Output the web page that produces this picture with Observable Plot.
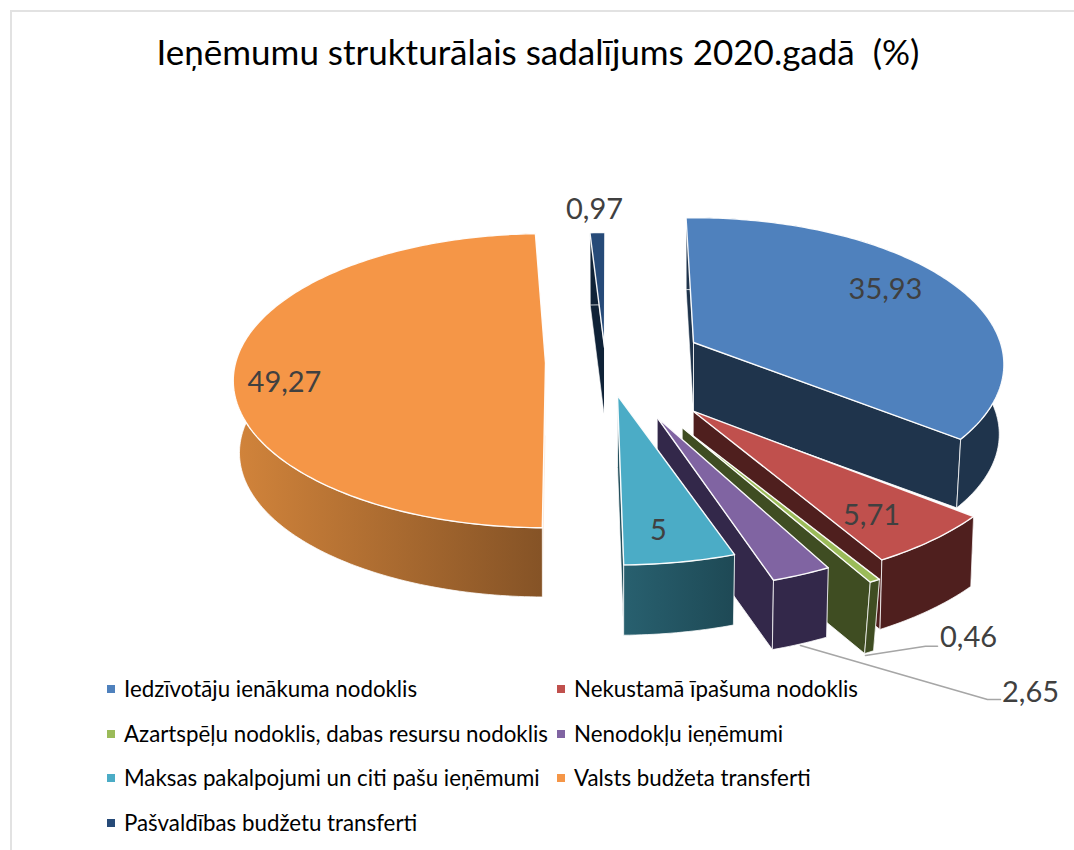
<!DOCTYPE html>
<html lang="lv">
<head>
<meta charset="utf-8">
<script src="https://cdn.jsdelivr.net/npm/d3@7"></script>
<script src="https://cdn.jsdelivr.net/npm/@observablehq/plot@0.6"></script>
<style>
  html, body { margin: 0; padding: 0; background: #fff; }
  #page { position: relative; width: 1074px; height: 850px; overflow: hidden; font-family: Lato, sans-serif; }
  .frame-top { position: absolute; left: 10px; top: 10px; right: 0; height: 2px; background: #e2e2e2; }
  .frame-left { position: absolute; left: 10px; top: 10px; bottom: 0; width: 2px; background: #e2e2e2; }
  #chart { position: absolute; left: 0; top: 0; width: 1074px; }
  figure { margin: 0; }
  figure h2 { margin: 0; height: 85px; box-sizing: border-box; padding-top: 28px; width: 1076px; text-align: center;
    font: 400 35px/46px Lato, sans-serif; color: #000; white-space: pre; }
  #legend { position: absolute; left: 0; top: 0; width: 1074px; height: 850px; pointer-events: none; }
  .key { position: absolute; font: 400 22.3px/24px Lato, sans-serif; color: #000; white-space: nowrap; }
  .key i { position: absolute; left: -17px; top: 8px; width: 8px; height: 8px; }
</style>
</head>
<body>
<div id="page">
  <div class="frame-top"></div>
  <div class="frame-left"></div>
  <div id="chart"></div>
  <div id="legend"></div>
</div>
<script>
const chartTitle = "Ieņēmumu strukturālais sadalījums 2020.gadā  (%)";
const categories = [
  "Iedzīvotāju ienākuma nodoklis",
  "Nekustamā īpašuma nodoklis",
  "Azartspēļu nodoklis, dabas resursu nodoklis",
  "Nenodokļu ieņēmumi",
  "Maksas pakalpojumi un citi pašu ieņēmumi",
  "Valsts budžeta transferti",
  "Pašvaldības budžetu transferti"
];
const values = [35.93, 5.71, 0.46, 2.65, 5, 49.27, 0.97];
const topColors = ["#4f81bd", "#c0504d", "#9bbb59", "#8064a2", "#4bacc6", "#f59647", "#264a78"];
const wallColors = ["#1f344c", "#4f1f1e", "#3f4d22", "#33284a", "url(#tealWall)", "url(#orangeWall)", "#0f2237"];
const faceColors = ["#1f344c", "#4f1f1e", "#3f4d22", "#33284a", "#234f5c", "#f8dcc4", "#0f2237"];

// Exploded-pie layout: where each slice's tip sits, its perspective scale, small rotation,
// wall depth (d) and how much the floor shrinks against the top (fs).
const explode = [
  {ax: 693, ay: 342, sc: 0.99, twist: 0, k: 0.15, d: 70, fs: 0.985},
  {ax: 692.7, ay: 410.7, sc: 1.08, twist: 1, k: 0.11, d: 71, fs: 0.99},
  {ax: 681.7, ay: 427, sc: 1.11, twist: 0.4, k: 0.11, d: 76, fs: 0.97},
  {ax: 656.7, ay: 417, sc: 1.06, twist: 2, k: 0.11, d: 71, fs: 0.99},
  {ax: 617, ay: 395, sc: 1.04, twist: 1.5, k: 0.11, d: 72, fs: 0.99},
  {ax: 545, ay: 362.5, sc: 1, twist: 3, k: 0.12, d: 72.5, fs: 0.98},
  {ax: 604, ay: 347, sc: 0.88, twist: 1.7, k: 0.11, d: 70, fs: 0.98}
];
const labelAnchors = [[885, 289], [871, 515], null, null, [658, 530], [284, 382], [594, 209]];
const leaderLabels = [
  {i: 2, x: 968, y: 637, path: [[865, 655], [925, 645.7], [937, 645.7]]},
  {i: 3, x: 1030, y: 692, path: [[800, 645], [987, 699], [1000, 699]]}
];
const startAngle = -1.6, rx = 310, ry = 145;
const chartTop = 85, chartHeight = 625;

const fmt = v => String(v).replace(".", ",");
const total = d3.sum(values);
let cum = 0;
const slices = values.map((v, i) => {
  const a0 = startAngle + cum / total * 360 + explode[i].twist;
  cum += v;
  const a1 = startAngle + cum / total * 360 + explode[i].twist;
  return {...explode[i], i, a0, a1};
});

function rim(s, deg, floor) {
  const t = deg * Math.PI / 180;
  const w = 1 + s.k * Math.cos(t);
  const dx = s.sc * rx * Math.sin(t) / w, dy = -s.sc * ry * Math.cos(t) / w;
  return floor
    ? {x: s.ax + s.fs * dx, y: s.ay + s.d + s.fs * dy}
    : {x: s.ax + dx, y: s.ay + dy};
}
function arc(s, from, to, floor) {
  const n = Math.max(2, Math.ceil(Math.abs(to - from)));
  return d3.range(n + 1).map(j => rim(s, from + (to - from) * j / n, floor));
}
const apex = (s, floor) => ({x: s.ax, y: s.ay + (floor ? s.d : 0)});
const closed = pts => [...pts, pts[0]];

function face(points, fill, stroke, strokeWidth, strokeOpacity) {
  return Plot.line(closed(points), {x: "x", y: "y", fill, stroke, strokeWidth, strokeOpacity, curve: "linear"});
}

const marks = [];
marks.push(() => {
  const defs = d3.create("svg:defs");
  const grad = (id, a, b) => {
    const g = defs.append("linearGradient").attr("id", id).attr("x1", 0).attr("x2", 1).attr("y1", 0).attr("y2", 0);
    g.append("stop").attr("offset", 0).attr("stop-color", a);
    g.append("stop").attr("offset", 1).attr("stop-color", b);
  };
  grad("orangeWall", "#d2843b", "#855326");
  grad("tealWall", "#28606f", "#1e4955");
  return defs.node();
});

// Painter's order: far slices first, near slices last.
[6, 5, 0, 1, 2, 3, 4].forEach(i => {
  const s = slices[i];
  marks.push(face([apex(s), rim(s, s.a0), rim(s, s.a0, true), apex(s, true)], faceColors[i], "#fff", 0.7, 0.8));
  marks.push(face([apex(s), rim(s, s.a1), rim(s, s.a1, true), apex(s, true)], faceColors[i], "#fff", 0.9, 0.9));
  marks.push(face([...arc(s, s.a0, s.a1), ...arc(s, s.a1, s.a0, true)], wallColors[i], "#fff", 0.9, 0.85));
  marks.push(face([apex(s), ...arc(s, s.a0, s.a1)], topColors[i], "#fff", 1.4, 0.95));
});

// Leader lines and value labels
leaderLabels.forEach(l => {
  marks.push(Plot.line(l.path.map(([x, y]) => ({x, y})), {x: "x", y: "y", stroke: "#a6a6a6", strokeWidth: 1.6, curve: "linear"}));
});
const labelRows = [
  ...labelAnchors.map((p, i) => p && {x: p[0], y: p[1], t: fmt(values[i])}).filter(Boolean),
  ...leaderLabels.map(l => ({x: l.x, y: l.y, t: fmt(values[l.i])}))
];
marks.push(Plot.text(labelRows, {x: "x", y: "y", text: "t", fill: "#404040", fontSize: 29, fontFamily: "Lato, sans-serif", textAnchor: "middle", lineAnchor: "middle"}));

const plot = Plot.plot({
  title: chartTitle,
  width: 1074,
  height: chartHeight,
  marginTop: 0, marginRight: 0, marginBottom: 0, marginLeft: 0,
  x: {domain: [0, 1074], range: [0, 1074], axis: null},
  y: {domain: [chartTop, chartTop + chartHeight], range: [0, chartHeight], axis: null},
  style: {background: "transparent", overflow: "visible"},
  marks
});
document.getElementById("chart").appendChild(plot);

// Legend below the plot, in two columns
const legend = d3.select("#legend");
const colX = [124, 574], rowY = [689, 734, 778, 823];
categories.forEach((c, i) => {
  const el = legend.append("div").attr("class", "key")
    .style("left", colX[i % 2] + "px")
    .style("top", (rowY[Math.floor(i / 2)] - 12) + "px")
    .text(c);
  el.append("i").style("background", topColors[i]);
});
</script>
</body>
</html>
